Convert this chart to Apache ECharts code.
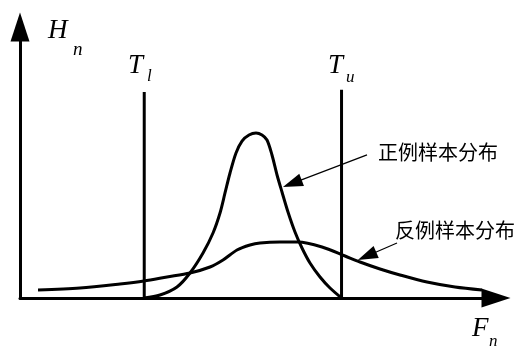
<!DOCTYPE html>
<html><head><meta charset="utf-8">
<script src="https://cdn.jsdelivr.net/npm/echarts@6/dist/echarts.min.js"></script>
<style>html,body{margin:0;padding:0;background:#fff}#c{width:521px;height:347px}</style>
</head><body><div id="c"></div>
<script>
// Positive-sample distribution (正例样本分布)
const posF = [26.05, 29.41, 32.98, 35.71, 38.45, 40.55, 42.02, 43.07, 44.12, 45.38, 46.64, 48.11, 49.58, 50.84, 51.89, 52.94, 54.00, 55.04, 56.30, 57.77, 59.24, 60.92, 63.03, 65.13, 67.55];
const posH = [0, 1.11, 4.06, 9.23, 16.61, 23.99, 31.37, 38.75, 46.13, 53.51, 57.93, 60.15, 60.89, 60.15, 58.30, 52.77, 45.39, 39.11, 31.73, 24.35, 18.45, 12.92, 7.75, 3.69, 0];
// Negative-sample distribution (反例样本分布)
const negF = [3.78, 12.61, 21.01, 26.05, 30.88, 35.71, 39.92, 42.65, 45.59, 48.32, 50.42, 54.62, 58.40, 63.45, 68.28, 71.43, 75.63, 79.83, 85.50, 91.39, 97.06];
const negH = [2.95, 3.69, 5.17, 6.27, 7.75, 9.23, 11.44, 14.02, 17.71, 19.56, 20.30, 20.66, 20.66, 18.82, 15.50, 13.28, 10.70, 8.49, 5.90, 4.06, 2.95];
// Thresholds T_l, T_u
const thrF = [26.1, 67.55];
const thrTop = [76.0, 76.8];
// Annotation arrows: [fromF, fromH, toF, toH]
const posArrow = [72.9, 52.8, 57.2, 42.3];
const negArrow = [79.2, 20.3, 72.9, 15.5];
const labelPos = '正例样本分布';
const labelNeg = '反例样本分布';

const zip = (a, b) => a.map((v, i) => [v, b[i]]);
const black = '#000';
const arrowMark = (a) => ({
  silent: true, animation: false,
  symbol: ['none', 'triangle'], symbolSize: [13, 20],
  lineStyle: { color: black, width: 1.2, type: 'solid' },
  label: { show: false },
  data: [[{ coord: [a[0], a[1]] }, { coord: [a[2], a[3]] }]]
});
const curve = (data, extra) => Object.assign({
  type: 'line', data, smooth: 0.3, showSymbol: false, silent: true,
  lineStyle: { color: black, width: 3 }, itemStyle: { color: black }
}, extra || {});

const axisCommon = {
  type: 'value', min: 0, max: 100,
  axisLine: { show: true, symbol: ['none', 'triangle'], symbolSize: [19, 29], lineStyle: { color: black, width: 3 } },
  axisTick: { show: false }, axisLabel: { show: false }, splitLine: { show: false }
};
const it = (t, x, y, size) => ({
  type: 'text', x, y, silent: true,
  style: { text: t, font: 'italic ' + size + 'px "Liberation Serif"', fill: black, align: 'left', verticalAlign: 'middle' }
});
const cn = (t, x, y) => ({
  type: 'text', x, y, silent: true,
  style: { text: t, font: '20px "Noto Sans CJK SC"', fill: black, align: 'left', verticalAlign: 'middle' }
});

const chart = echarts.init(document.getElementById('c'));
chart.setOption({
  animation: false,
  grid: { left: 20, right: 25, top: 27, bottom: 49 },
  xAxis: axisCommon,
  yAxis: axisCommon,
  series: [
    curve(zip(posF, posH), { markLine: arrowMark(posArrow) }),
    curve(zip(negF, negH), { markLine: arrowMark(negArrow) }),
    curve([[thrF[0], 0], [thrF[0], thrTop[0]]], { smooth: false }),
    curve([[thrF[1], 0], [thrF[1], thrTop[1]]], { smooth: false })
  ],
  graphic: [
    it('H', 48, 31, 27), it('n', 73, 50, 19),
    it('T', 128, 66, 27), it('l', 147, 77, 17),
    it('T', 328, 66, 27), it('u', 346, 78, 17),
    it('F', 472, 329, 27), it('n', 489, 342, 17),
    cn(labelPos, 378, 152),
    cn(labelNeg, 395, 230)
  ]
});
</script>
</body></html>
